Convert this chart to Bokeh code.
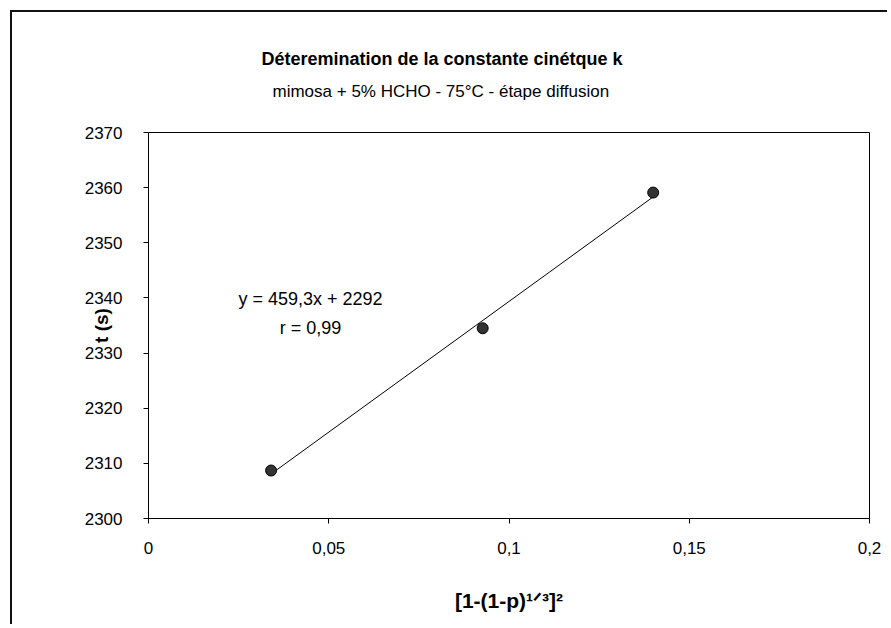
import numpy as np
from bokeh.plotting import figure
from bokeh.models import Label, FixedTicker, Title
from bokeh.embed import file_html
from bokeh.resources import INLINE

# ---- data ----
x_vals = [0.034, 0.0927, 0.140]
t_vals = [2308.7, 2334.5, 2359.1]
x_ticks = [0, 0.05, 0.1, 0.15, 0.2]
x_tick_labels = ["0", "0,05", "0,1", "0,15", "0,2"]
y_ticks = [2300, 2310, 2320, 2330, 2340, 2350, 2360, 2370]
title_text = "Déteremination de la constante cinétque k"
subtitle_text = "mimosa + 5% HCHO - 75°C - étape diffusion"
eq_text = "y = 459,3x + 2292"
r_text = "r = 0,99"
y_label = "t (s)"
x_label = "[1-(1-p)¹ᐟ³]²"

FONT = "Liberation Sans"

p = figure(width=887, height=624, x_range=(0, 0.2), y_range=(2300, 2370),
           output_backend="svg", toolbar_location=None,
           min_border_left=148, min_border_right=18,
           min_border_top=132, min_border_bottom=106)
p.border_fill_color = None
p.styles = {"background": "linear-gradient(#111,#111) 10px 10px / 100% 2px no-repeat, "
                          "linear-gradient(#111,#111) 10px 10px / 2px 100% no-repeat, white"}
p.background_fill_color = "white"
p.xgrid.visible = False
p.ygrid.visible = False
p.outline_line_color = "black"
p.outline_line_width = 1

for ax in (p.xaxis[0], p.yaxis[0]):
    ax.axis_line_color = "black"
    ax.major_tick_line_color = "black"
    ax.major_tick_in = 0
    ax.major_tick_out = 5
    ax.minor_tick_line_color = None
    ax.major_label_text_font = FONT
    ax.major_label_text_font_size = "17px"
    ax.major_label_text_color = "black"
    ax.axis_label_text_font = FONT
    ax.axis_label_text_font_style = "bold"
    ax.axis_label_text_color = "black"

p.xaxis.ticker = FixedTicker(ticks=x_ticks)
p.xaxis.major_label_overrides = {t: l for t, l in zip(x_ticks, x_tick_labels)}
p.xaxis.major_label_standoff = 18
p.xaxis.axis_label = x_label
p.xaxis.axis_label_text_font_size = "21px"
p.xaxis.axis_label_standoff = 32

p.yaxis.ticker = FixedTicker(ticks=y_ticks)
p.yaxis.major_label_standoff = 21
p.yaxis.axis_label = y_label
p.yaxis.axis_label_text_font_size = "19px"
p.yaxis.axis_label_standoff = -30

# titles (a blank spacer title keeps the subtitle clear of the plot area)
p.add_layout(Title(text=" ", align="left", text_font=FONT, text_font_size="14px",
                   standoff=5), "above")
p.add_layout(Title(text=subtitle_text, align="left", offset=124, text_font=FONT,
                   text_font_size="17px", text_font_style="normal", standoff=17,
                   text_color="black"), "above")
p.add_layout(Title(text=title_text, align="left", offset=113, text_font=FONT,
                   text_font_size="18px", text_font_style="bold", standoff=5,
                   text_color="black"), "above")

# trend line (least squares of the points)
coef = np.polyfit(x_vals, t_vals, 1)
xs = [min(x_vals), max(x_vals)]
p.line(xs, list(np.polyval(coef, xs)), line_color="black", line_width=1)

p.scatter(x_vals, t_vals, size=11, fill_color="#333333", line_color="black", line_width=1)

for txt, yy in ((eq_text, 220), (r_text, 191)):
    p.add_layout(Label(text=txt, x=162, y=yy, x_units="screen", y_units="screen",
                       text_font=FONT, text_font_size="18px", text_align="center",
                       text_baseline="middle", text_color="black"))

open("out.html", "w").write(file_html(p, INLINE))
